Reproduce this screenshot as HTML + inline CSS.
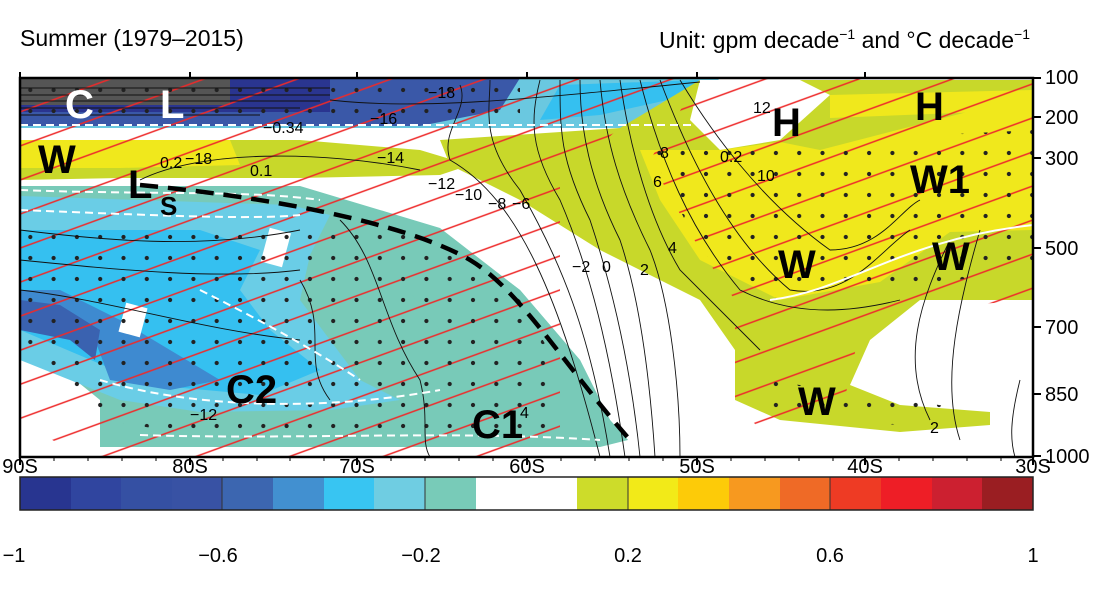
<!DOCTYPE html>
<html><head><meta charset="utf-8"><style>
body{margin:0;background:#fff;}
svg{display:block;font-family:"Liberation Sans",Arial,sans-serif;}
</style></head><body>
<svg width="1114" height="591" viewBox="0 0 1114 591" xmlns="http://www.w3.org/2000/svg">
<defs>
<clipPath id="plot"><rect x="20" y="78" width="1013" height="379"/></clipPath>
<pattern id="hatch" width="32" height="32" patternUnits="userSpaceOnUse" patternTransform="rotate(-20)">
<line x1="0" y1="16" x2="32" y2="16" stroke="#ee2a2a" stroke-width="1.6"/></pattern>
<pattern id="dots" width="23.3" height="21" patternUnits="userSpaceOnUse" x="3" y="2">
<circle cx="4" cy="4" r="2.1" fill="#222"/></pattern>
<clipPath id="hl"><path d="M20,80 L700,78 L640,110 L560,180 L560,457 L80,457 L20,420Z"/></clipPath>
<clipPath id="hr"><path d="M700,78 L1033,78 L1033,300 L900,310 L860,330 L840,420 L760,430 L735,400 L735,300 L700,250 L650,160Z"/></clipPath>
</defs>
<g clip-path="url(#plot)">
<rect x="20" y="78" width="1013" height="379" fill="#fff"/>
<path d="M20,78 L720,78 L700,100 L640,128 L20,128Z" fill="#6ac8e0"/>
<path d="M20,78 L520,78 L500,110 L420,126 L20,126Z" fill="#3a58a8"/>
<path d="M20,78 L330,78 L330,112 L20,112Z" fill="#2a3590"/>
<path d="M20,78 L230,78 L230,105 L20,105Z" fill="#555"/>
<path d="M560,85 L700,80 L690,95 L600,115 L540,120Z" fill="#35c0f0"/>
<path d="M20,140 L300,140 L420,150 L470,165 L440,175 L300,178 L120,178 L20,180Z" fill="#c8d82a"/>
<path d="M20,140 L230,140 L240,165 L120,168 L20,168Z" fill="#f0e81c"/>
<path d="M20,186 L300,186 L440,228 L520,290 L580,360 L610,420 L628,440 L600,447 L100,447 L100,400 L20,335Z" fill="#78cab8"/>
<path d="M20,196 L290,205 L330,215 L310,255 L300,300 L330,340 L360,380 L400,400 L330,410 L200,412 L120,400 L20,360Z" fill="#6acde6"/>
<path d="M20,230 L200,230 L260,250 L240,290 L270,330 L320,370 L260,395 L150,385 L20,330Z" fill="#35c0f0"/>
<path d="M20,290 L60,290 L120,320 L170,350 L220,380 L170,390 L110,380 L95,340 L20,330Z" fill="#3e8ad0"/>
<path d="M20,300 L60,305 L100,330 L95,360 L70,340 L20,330Z" fill="#3a62b0"/>
<path d="M440,230 L520,290 L580,360 L610,420 L628,440 L500,445 L420,440 L460,400 L440,330 L400,280 L400,240Z" fill="#78cab8"/>
<rect x="265" y="230" width="22" height="35" fill="#fff" transform="rotate(15 276 247)"/>
<rect x="122" y="305" width="22" height="30" fill="#fff" transform="rotate(15 133 320)"/>
<path d="M440,140 L620,128 L700,80 L1033,80 L1033,300 L920,300 L870,340 L850,385 L900,405 L990,412 L990,425 L900,432 L780,420 L735,400 L735,350 L700,300 L600,250 L520,200 L450,165Z" fill="#c8d82a"/>
<path d="M700,80 L800,80 L830,95 L780,140 L720,150 L690,120Z" fill="#fff"/>
<path d="M820,150 L1033,95 L1033,230 L950,232 L880,282 L780,300 L700,260 L660,200 L640,150 L720,150 L780,142Z" fill="#f0e81c"/>
<path d="M830,95 L1033,90 L1033,110 L830,118Z" fill="#f0e81c"/>
<rect x="20" y="78" width="1013" height="379" fill="url(#hatch)" clip-path="url(#hl)"/>
<rect x="20" y="78" width="1013" height="379" fill="url(#hatch)" clip-path="url(#hr)"/>
<g clip-path="url(#hl)"><path d="M20,220 L300,220 L440,240 L520,300 L600,440 L230,440 L100,420 L20,340Z" fill="url(#dots)"/><rect x="20" y="80" width="500" height="45" fill="url(#dots)"/></g>
<path d="M650,150 L1033,130 L1033,270 L880,290 L760,300 L700,250Z" fill="url(#dots)"/>
<path d="M760,380 L880,395 L980,412 L900,425 L760,415Z" fill="url(#dots)"/>
<g fill="none" stroke="#111" stroke-width="0.9">
<path d="M20,88 H330 M20,95 H330 M20,101 H320 M20,108 H300 M20,115 H260"/>
<path d="M330,100 C420,110 520,100 700,82"/>
<path d="M460,85 C470,110 440,130 450,160 C520,200 560,300 600,457"/>
<path d="M490,80 C490,110 480,140 520,190 C560,260 590,330 610,457"/>
<path d="M540,80 C530,120 530,150 560,200 C590,270 610,350 625,457"/>
<path d="M560,80 C560,130 560,160 590,220 C610,280 630,360 640,457"/>
<path d="M580,80 C580,130 590,180 620,240 C640,300 650,380 655,457"/>
<path d="M600,80 C605,140 620,190 650,250 C670,300 680,390 680,457"/>
<path d="M620,80 C630,150 650,220 680,270 C710,300 740,330 760,350"/>
<path d="M640,80 C660,160 690,230 740,290 C800,320 860,310 900,300"/>
<path d="M660,80 C690,160 730,240 790,290 C850,300 880,250 910,230"/>
<path d="M680,80 C710,130 760,200 830,250 C880,250 900,210 920,200"/>
<path d="M140,180 C200,150 320,150 420,170"/>
<path d="M20,230 C100,240 200,250 300,230 M20,260 C120,270 220,280 300,270 M20,290 C110,300 200,330 300,340"/>
<path d="M300,280 C330,330 300,360 330,400 M340,220 C380,260 380,320 420,380 C430,420 420,440 430,457"/>
<path d="M950,240 C920,300 900,360 930,420 M980,230 C960,300 940,380 960,440 M1020,380 C1010,420 1010,440 1015,457"/>
</g>
<g fill="none" stroke="#fff" stroke-width="2" stroke-dasharray="8,5">
<path d="M20,125 H700 M20,190 C150,195 250,190 320,200 M20,210 C150,215 250,220 300,215"/>
<path d="M200,290 C280,330 330,360 360,380 M100,380 C200,410 330,410 440,390 M140,435 C300,440 450,430 600,440"/>
</g>
<path d="M770,300 C850,290 900,240 1033,225" fill="none" stroke="#fff" stroke-width="2"/>
<path d="M140,185 C300,200 420,230 470,260 C520,290 560,360 630,440" fill="none" stroke="#000" stroke-width="4.5" stroke-dasharray="18,10"/>
<g font-weight="bold" fill="#000" font-size="40">
<text x="65" y="118" fill="#fff">C</text><text x="160" y="118" fill="#fff">L</text>
<text x="38" y="173">W</text><text x="128" y="198">L</text><text x="160" y="215" font-size="26">S</text>
<text x="772" y="136">H</text><text x="915" y="120">H</text>
<text x="910" y="193">W1</text><text x="778" y="278">W</text><text x="932" y="270">W</text>
<text x="798" y="415">W</text><text x="226" y="403">C2</text><text x="472" y="438">C1</text>
</g>
<g font-size="16" fill="#000">
<text x="428" y="98">−18</text><text x="370" y="124">−16</text><text x="263" y="133">−0.34</text>
<text x="377" y="163">−14</text><text x="428" y="189">−12</text><text x="455" y="200">−10</text>
<text x="488" y="209">−8</text><text x="512" y="209">−6</text><text x="572" y="272">−2</text>
<text x="602" y="272">0</text><text x="640" y="275">2</text><text x="668" y="253">4</text>
<text x="653" y="187">6</text><text x="660" y="158">8</text><text x="757" y="181">10</text>
<text x="753" y="113">12</text><text x="720" y="162">0.2</text><text x="185" y="164">−18</text>
<text x="250" y="176">0.1</text><text x="160" y="168">0.2</text><text x="190" y="420">−12</text>
<text x="930" y="433">2</text><text x="520" y="418">4</text>
</g>
</g>
<rect x="20" y="78" width="1013" height="379" fill="none" stroke="#000" stroke-width="2.5"/>
<g stroke="#000" stroke-width="2">
<path d="M20,457v8M190,457v8M357,457v8M527,457v8M697,457v8M865,457v8M1033,457v8"/>
<path d="M20,78v-6M190,78v-6M357,78v-6M527,78v-6M697,78v-6M865,78v-6"/>
<path d="M1033,78h8M1033,117h8M1033,158h8M1033,248h8M1033,327h8M1033,394h8M1033,456h8"/>
</g>
<g stroke="#000" stroke-width="1"><path d="M54,457v4M88,457v4M122,457v4M156,457v4M223,457v4M257,457v4M290,457v4M324,457v4M391,457v4M425,457v4M459,457v4M493,457v4M561,457v4M595,457v4M629,457v4M663,457v4M731,457v4M765,457v4M799,457v4M833,457v4M899,457v4M933,457v4M967,457v4M1001,457v4"/></g>
<g font-size="20" fill="#000">
<text x="1045" y="84">100</text><text x="1045" y="124">200</text><text x="1045" y="165">300</text>
<text x="1045" y="255">500</text><text x="1045" y="334">700</text><text x="1045" y="401">850</text><text x="1045" y="463">1000</text>
<g text-anchor="middle"><text x="20" y="473">90S</text><text x="190" y="473">80S</text><text x="357" y="473">70S</text><text x="527" y="473">60S</text><text x="697" y="473">50S</text><text x="865" y="473">40S</text><text x="1033" y="473">30S</text>
<text x="14" y="562">−1</text><text x="218" y="562">−0.6</text><text x="421" y="562">−0.2</text><text x="628" y="562">0.2</text><text x="830" y="562">0.6</text><text x="1033" y="562">1</text></g>
</g>
<text x="20" y="46" font-size="23">Summer (1979–2015)</text>
<text x="1030" y="48" font-size="23" text-anchor="end">Unit: gpm decade<tspan font-size="14" dy="-9">−1</tspan><tspan dy="9"> and °C decade</tspan><tspan font-size="14" dy="-9">−1</tspan></text>
<g>
<rect x="20" y="477" width="51" height="33" fill="#283590"/><rect x="71" y="477" width="51" height="33" fill="#30459f"/>
<rect x="121" y="477" width="51" height="33" fill="#3550a3"/><rect x="172" y="477" width="51" height="33" fill="#3852a4"/>
<rect x="222" y="477" width="51" height="33" fill="#3c66b0"/><rect x="273" y="477" width="51" height="33" fill="#4290d0"/>
<rect x="324" y="477" width="51" height="33" fill="#38c5f2"/><rect x="374" y="477" width="51" height="33" fill="#6fcde2"/>
<rect x="425" y="477" width="51" height="33" fill="#78cbb8"/><rect x="476" y="477" width="102" height="33" fill="#fff"/>
<rect x="577" y="477" width="51" height="33" fill="#cddc2a"/><rect x="628" y="477" width="51" height="33" fill="#f2ea18"/>
<rect x="678" y="477" width="51" height="33" fill="#fdcb08"/><rect x="729" y="477" width="51" height="33" fill="#f7991f"/>
<rect x="780" y="477" width="51" height="33" fill="#ef6a26"/><rect x="830" y="477" width="51" height="33" fill="#ee3b24"/>
<rect x="881" y="477" width="51" height="33" fill="#ee1e26"/><rect x="932" y="477" width="51" height="33" fill="#cc2030"/>
<rect x="982" y="477" width="51" height="33" fill="#9a1e22"/>
<g stroke="#333" stroke-width="1"><path d="M222,477v33M425,477v33M628,477v33M830,477v33"/></g>
<rect x="20" y="477" width="1013" height="33" fill="none" stroke="#222" stroke-width="1.5"/>
</g>
</svg>
</body></html>
